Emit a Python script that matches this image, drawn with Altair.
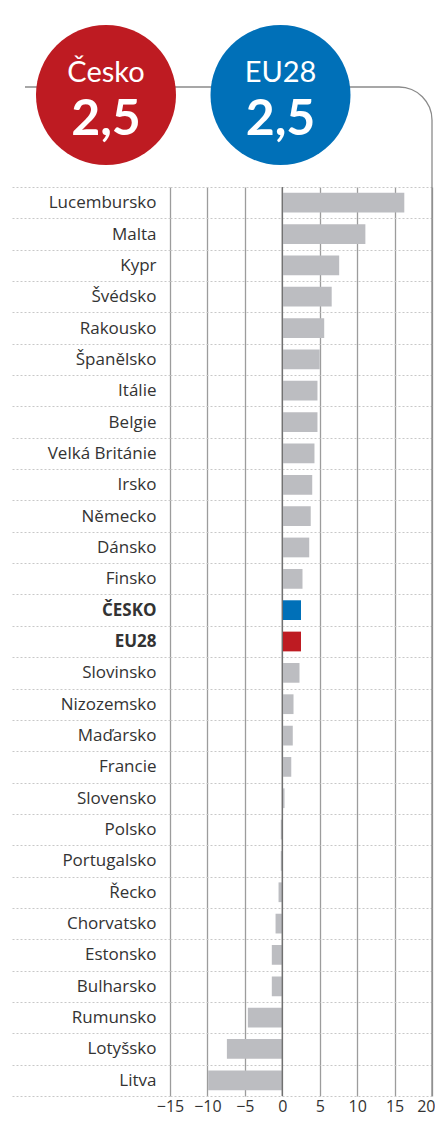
import math
import altair as alt
import pandas as pd

countries = ["Lucembursko", "Malta", "Kypr", "Švédsko", "Rakousko", "Španělsko",
             "Itálie", "Belgie", "Velká Británie", "Irsko", "Německo", "Dánsko",
             "Finsko", "ČESKO", "EU28", "Slovinsko", "Nizozemsko", "Maďarsko",
             "Francie", "Slovensko", "Polsko", "Portugalsko", "Řecko", "Chorvatsko",
             "Estonsko", "Bulharsko", "Rumunsko", "Lotyšsko", "Litva"]
values = [16.3, 11.1, 7.6, 6.6, 5.6, 5.0, 4.7, 4.7, 4.3, 4.0, 3.8, 3.6, 2.7,
          2.5, 2.5, 2.3, 1.5, 1.4, 1.2, 0.3, -0.2, -0.2, -0.5, -0.9, -1.4,
          -1.4, -4.6, -7.4, -9.9]
groups = ["ostatní"] * 13 + ["Česko", "EU28"] + ["ostatní"] * 14
x_ticks = [-15, -10, -5, 0, 5, 10, 15, 20]
circle_names = ["Česko", "EU28"]
circle_values = ["2,5", "2,5"]

df = pd.DataFrame({"country": countries, "value": values, "group": groups})
one = pd.DataFrame({"d": [0]})

LABEL_FONT = "Open Sans"

bars = alt.Chart(df).mark_bar(height=alt.RelativeBandSize(0.63)).encode(
    y=alt.Y("country:N", sort=countries,
            scale=alt.Scale(paddingInner=0, paddingOuter=0),
            axis=alt.Axis(title=None, domain=False, grid=True, gridDash=[2, 2],
                          gridColor="#c8c8c8", gridWidth=1, tickBand="extent",
                          ticks=True, tickSize=158, tickDash=[2, 2],
                          tickColor="#c8c8c8", tickWidth=1, labelPadding=-144,
                          labelFont=LABEL_FONT, labelFontSize=17, labelColor="#333333",
                          labelLimit=0,
                          labelFontWeight=alt.expr("datum.value == 'ČESKO' || datum.value == 'EU28' ? 'bold' : 'normal'"))),
    x=alt.X("value:Q", scale=alt.Scale(domain=[-15, 20], nice=False),
            axis=alt.Axis(title=None, values=x_ticks, tickCount=20, grid=True,
                          gridColor="#9c9c9c", gridWidth=1.3, domain=False, ticks=False,
                          labelOverlap=False,
                          labelFont=LABEL_FONT, labelFontSize=16, labelColor="#333333",
                          labelPadding=2,
                          labelAlign=alt.expr("datum.value == 20 ? 'right' : 'center'"),
                          labelOffset=alt.expr("datum.value == 20 ? 3 : 0"))),
    color=alt.Color("group:N",
                    scale=alt.Scale(domain=["ostatní", "Česko", "EU28"],
                                    range=["#bcbdc1", "#0070b8", "#be1b22"]),
                    legend=None),
)

zero = alt.Chart(pd.DataFrame({"value": [0]})).mark_rule(color="#6e6e6e", strokeWidth=1.3).encode(
    x=alt.X("value:Q", title=None)
)

frame_h = alt.Chart(one).mark_rule(color="#8a8a8a", strokeWidth=1.3).encode(
    x=alt.value(-145), x2=alt.value(229), y=alt.value(-100))
frame_arc = alt.Chart(one).mark_arc(innerRadius=32.35, outerRadius=33.65, color="#8a8a8a",
                                    theta=0, theta2=math.pi / 2).encode(
    x=alt.value(229), y=alt.value(-67))
frame_v = alt.Chart(one).mark_rule(color="#8a8a8a", strokeWidth=1.3).encode(
    x=alt.value(262), y=alt.value(-67), y2=alt.value(909))

circ1 = alt.Chart(one).mark_circle(size=math.pi * 79 ** 2, color="#be1b22", opacity=1).encode(
    x=alt.value(-64), y=alt.value(-92))
circ2 = alt.Chart(one).mark_circle(size=math.pi * 79 ** 2, color="#0070b8", opacity=1).encode(
    x=alt.value(110.5), y=alt.value(-92))

def label(txt, x, y, size, weight):
    return alt.Chart(one).mark_text(font="Lato", fontSize=size, fontWeight=weight,
                                    color="white", align="center",
                                    baseline="alphabetic").encode(
        x=alt.value(x), y=alt.value(y), text=alt.value(txt))

t1 = label(circle_names[0], -64, -105, 29, "normal")
t2 = label(circle_values[0], -64, -52, 50, "bold")
t3 = label(circle_names[1], 110.5, -105, 29, "normal")
t4 = label(circle_values[1], 110.5, -52, 50, "bold")

chart = alt.layer(bars, zero, frame_h, frame_arc, frame_v, circ1, circ2, t1, t2, t3, t4).properties(
    width=262, height=909,
    autosize=alt.AutoSizeParams(type="none"),
    padding={"left": 162, "top": 179, "right": 3, "bottom": 20},
).configure_view(stroke=None)

chart.save("out.html", embed_options={"renderer": "svg", "actions": False})
